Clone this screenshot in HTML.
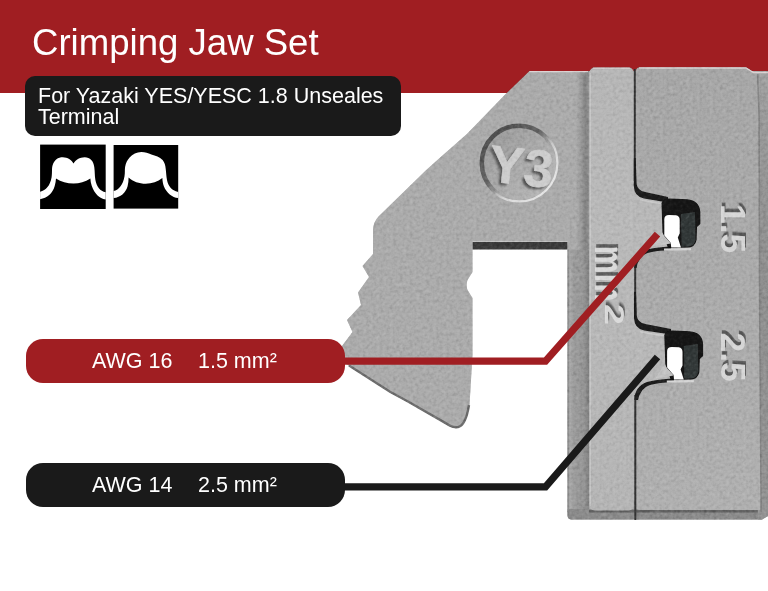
<!DOCTYPE html>
<html lang="en">
<head>
<meta charset="utf-8">
<title>Crimping Jaw Set</title>
<style>
html,body{margin:0;padding:0;}
body{width:768px;height:591px;position:relative;overflow:hidden;background:#fff;
  font-family:"Liberation Sans",Arial,sans-serif;color:#fff;}
.abs{position:absolute;}
#title,#desc span,.pill span{will-change:transform;}
#hdr{left:0;top:0;width:768px;height:92.8px;background:#a01e22;}
#title{left:31.9px;top:22.2px;font-size:36.6px;line-height:42px;white-space:nowrap;}
#desc{left:24.5px;top:75.5px;width:376.5px;height:60px;border-radius:10px;background:#1a1a1a;}
#desc span{position:absolute;left:13.6px;white-space:nowrap;font-size:21.5px;line-height:24px;}
#d1{top:8.5px;}
#d2{top:29.4px;}
.pill{left:26.3px;width:318.6px;height:44.2px;border-radius:17px;}
#p1{top:339.1px;background:#a01e22;}
#p2{top:463.1px;background:#1a1a1a;}
.pill span{position:absolute;top:10px;font-size:21.5px;line-height:24px;white-space:nowrap;}
.pill .a{left:66px;}
.pill .b{left:172px;}
#p2 .b{left:171.3px;}
svg{position:absolute;left:0;top:0;}
</style>
</head>
<body>
<div id="hdr" class="abs"></div>
<div id="title" class="abs">Crimping Jaw Set</div>
<div id="desc" class="abs"><span id="d1">For Yazaki YES/YESC 1.8 Unseales</span><span id="d2">Terminal</span></div>

<!-- crimp profile icons -->
<svg id="icons" width="768" height="591" viewBox="0 0 768 591">
  <g transform="translate(40.1,144.6)">
    <rect width="65.6" height="64.4" fill="#000"/>
    <path fill="#fff" d="M0,47.1 C6,46 10,41 11.5,32.75 C12.3,27 11.5,25 12.3,21.5 C14,15 18,12.7 22.75,12.7 C27.5,12.7 31.5,15.5 33.4,19 C35.5,15.5 39.5,12.7 44.6,12.7 C50,12.7 53.5,16.5 54.2,22.75 C54.8,27 54.5,31 55.25,35.25 C56.5,42.5 60,46.5 65.6,47.75 L65.6,55 C59,54 54.5,49 51.7,41.5 C50.8,39 50.4,36.5 50.25,34 C45,37.5 39.5,39 33.4,39 C27,39 21,37.5 15.9,34 C15.8,36.5 15.3,39 14.6,41.5 C12.5,49 7,53.5 0,54.6 Z"/>
  </g>
  <g transform="translate(113.6,145)">
    <rect width="64.6" height="63.6" fill="#000"/>
    <path fill="#fff" d="M0,46 C5.5,45 9.5,39.5 10.9,31.25 C11.6,27 11.0,25 11.5,21.9 C12.3,17.5 13.8,15 16,12.5 C19,9 23,6.9 27.75,6.9 C31.5,6.9 34.5,8 37.75,9.4 C42,10.5 46,12 49,15 C51,17.5 51.8,20 52.1,23.75 C52.6,27.5 52.6,31 53.4,35 C54.6,41 58,45.6 64.6,46.9 L64.6,53.1 C58.5,52.5 53,48 50.25,41.25 C49.3,38.8 48.9,36 48.75,33.1 C44,37 38.5,38.75 32.1,38.75 C25.5,38.75 19.5,36.5 15,32.5 C15,35.5 14.7,38.5 14,41.25 C12,48 7,52.3 0,53.1 Z"/>
  </g>
</svg>

<!-- jaw -->
<svg id="jaw" width="768" height="591" viewBox="0 0 768 591">
  <defs>
    <filter id="grain" x="0" y="0" width="100%" height="100%" color-interpolation-filters="sRGB">
      <feTurbulence type="fractalNoise" baseFrequency="0.3" numOctaves="2" seed="11" result="n"/>
      <feColorMatrix in="n" type="matrix" values="0.5 0.5 0 0 0  0.5 0.5 0 0 0  0.5 0.5 0 0 0  0 0 0 0 1" result="g"/>
      <feComponentTransfer in="g" result="g2">
        <feFuncR type="linear" slope="0.5" intercept="0.25"/>
        <feFuncG type="linear" slope="0.5" intercept="0.25"/>
        <feFuncB type="linear" slope="0.5" intercept="0.25"/>
      </feComponentTransfer>
      <feBlend in="g2" in2="SourceGraphic" mode="soft-light" result="b"/>
      <feComposite in="b" in2="SourceAlpha" operator="in"/>
    </filter>
    <filter id="soft" filterUnits="userSpaceOnUse" x="0" y="0" width="768" height="591"><feGaussianBlur stdDeviation="0.6"/></filter>
    <filter id="softT" filterUnits="userSpaceOnUse" x="-40" y="-80" width="240" height="160"><feGaussianBlur stdDeviation="0.6"/></filter>
    <filter id="soft2" filterUnits="userSpaceOnUse" x="-120" y="-120" width="240" height="240"><feGaussianBlur stdDeviation="1.2"/></filter>
    <linearGradient id="gStrip" x1="0" x2="1" y1="0" y2="0">
      <stop offset="0" stop-color="#8a8a8a"/>
      <stop offset="0.06" stop-color="#8e8e8e"/>
      <stop offset="0.1" stop-color="#aaaaaa"/>
      <stop offset="0.18" stop-color="#a4a4a4"/>
      <stop offset="0.28" stop-color="#9b9b9b"/>
      <stop offset="0.7" stop-color="#979797"/>
      <stop offset="0.88" stop-color="#888888"/>
      <stop offset="0.96" stop-color="#828282"/>
      <stop offset="1" stop-color="#9a9a9a"/>
    </linearGradient>
    <linearGradient id="gRingD" x1="0.12" y1="0.12" x2="0.88" y2="0.88">
      <stop offset="0" stop-color="#4e4e4e" stop-opacity="1"/>
      <stop offset="0.4" stop-color="#5a5a5a" stop-opacity="0.85"/>
      <stop offset="0.62" stop-color="#6a6a6a" stop-opacity="0"/>
      <stop offset="1" stop-color="#6a6a6a" stop-opacity="0"/>
    </linearGradient>
    <linearGradient id="gRingL" x1="0.12" y1="0.12" x2="0.88" y2="0.88">
      <stop offset="0" stop-color="#e2e2e2" stop-opacity="0"/>
      <stop offset="0.5" stop-color="#e2e2e2" stop-opacity="0"/>
      <stop offset="0.7" stop-color="#dedede" stop-opacity="0.9"/>
      <stop offset="1" stop-color="#e6e6e6" stop-opacity="1"/>
    </linearGradient>
    <linearGradient id="gDisc" x1="0.15" y1="0.15" x2="0.85" y2="0.85">
      <stop offset="0" stop-color="#9c9c9c"/>
      <stop offset="0.5" stop-color="#aaaaaa"/>
      <stop offset="1" stop-color="#b4b4b4"/>
    </linearGradient>
    <linearGradient id="gSide" x1="0" x2="0" y1="0" y2="1">
      <stop offset="0" stop-color="#a2a2a2"/>
      <stop offset="0.12" stop-color="#999999"/>
      <stop offset="0.45" stop-color="#8f8f8f"/>
      <stop offset="1" stop-color="#939393"/>
    </linearGradient>
    <linearGradient id="gBlock" x1="0" x2="0" y1="0" y2="1">
      <stop offset="0" stop-color="#a7a7a7"/>
      <stop offset="0.5" stop-color="#ababab"/>
      <stop offset="1" stop-color="#b0b0b0"/>
    </linearGradient>
    <linearGradient id="gBar" x1="0" x2="0" y1="0" y2="1">
      <stop offset="0" stop-color="#b6b6b6"/>
      <stop offset="0.4" stop-color="#b9b9b9"/>
      <stop offset="1" stop-color="#b5b5b5"/>
    </linearGradient>
    <linearGradient id="gBarSh" x1="0" x2="1" y1="0" y2="0">
      <stop offset="0" stop-color="#ababab"/>
      <stop offset="0.4" stop-color="#989898"/>
      <stop offset="0.68" stop-color="#848484"/>
      <stop offset="0.9" stop-color="#8c8c8c"/>
      <stop offset="1" stop-color="#a0a0a0"/>
    </linearGradient>
      </defs>
  <g id="metal" filter="url(#grain)">
    <!-- base plate -->
    <path id="plate" fill="#ababab" d="M529.4,71 L768,71 L768,516 L762,519.600 L572,519.600 Q567.5,519.600 567.5,515 L567.5,241 L472.5,241 L472.5,272 L467.500,280 Q465.800,285 467.500,290 L472.5,298 L472.5,355 L469.5,405 Q466,424 460,427 Q456,429.5 450,426.5 L407.5,402 L390,392.5 L349,366 L343,360 L342,346 L352.5,332 L347,320 L361,305 L358,292.5 L369,277 L362.5,266 L373,254 L373,230 Q373.3,222 378.75,216.25 L426.25,170 L438,159.5 L466.9,134 L480,120.6 L506.9,92.75 Z"/>
    <!-- darker lower edge of the left jaw -->
    <path d="M349,365.5 L390,391.8 L407.5,401.2 L450,425.600 Q456,428.600 460,426.2 Q466,423 469,405" fill="none" stroke="#6e6e6e" stroke-width="2.4" filter="url(#soft)"/>
    <!-- dark under-edge at hole top -->
    <rect x="472.5" y="241.600" width="95" height="8" fill="#3a3a3a" filter="url(#soft)"/>
    <!-- Y3 engraved ring -->
    <circle cx="519" cy="163" r="37" fill="url(#gDisc)"/>
    <circle cx="519" cy="163" r="37.2" fill="none" stroke="url(#gRingD)" stroke-width="4.5" filter="url(#soft)"/>
    <circle cx="519" cy="163" r="38.4" fill="none" stroke="url(#gRingL)" stroke-width="2.2" filter="url(#soft)"/>
    <g transform="translate(521.3,166) rotate(6) scale(1,1)" font-family="Liberation Sans, Arial, sans-serif" font-weight="bold" font-size="52.5" text-anchor="middle">
      <text x="0" y="18.8" fill="#555" transform="translate(-2.4,2.2)" filter="url(#soft2)">Y3</text>
      <text x="0" y="18.8" fill="#cdcdcd" stroke="#cdcdcd" stroke-width="0.6" stroke-linejoin="round">Y3</text>
    </g>
    <!-- strip between hole and bar -->
    <path d="M567.5,249.600 H589.500 V512 H567.5 Z" fill="url(#gStrip)"/>
    <rect x="576" y="71" width="13.5" height="179" fill="url(#gBarSh)"/>
    <!-- bottom thickness band -->
    <path d="M567.5,509 H761 L762,519.600 H572 Q567.5,519.600 567.5,515 Z" fill="#8b8b8b"/>
    <path d="M589,511.300 H761" stroke="#646464" stroke-width="2.4" fill="none" filter="url(#soft)"/>
    <!-- mid bar -->
    <rect x="589.5" y="67.5" width="44.3" height="443" rx="5" fill="url(#gBar)"/>
    <!-- right block -->
    <path d="M750,72 L768,72 L768,516 L762,519.600 L758,519.600 Z" fill="url(#gSide)"/>
    <path fill="url(#gBlock)" d="M640,67.3 L746,67.3 L753.500,72 L757.500,74 L759,115 L759.500,300 L761,510 L640,510 Q636,510 636,506 L636,71 Q636,67.3 640,67.3 Z"/>
    <path d="M757.600,74 L759.100,115 L759.600,300 L761.200,512" stroke="#838383" stroke-width="1.6" fill="none" filter="url(#soft)"/>
    <!-- top edge highlights -->
    <path d="M529.500,71.600 H588 M593,68.200 H630 M639,68 H746 L753.500,72.600 H768" stroke="#dcd2d2" stroke-width="1.3" fill="none" filter="url(#soft)"/>
    <path d="M590.300,73 V506" stroke="#c6c6c6" stroke-width="1.4" fill="none" filter="url(#soft)"/>
    <!-- gap line -->
    <path d="M634.8,69 V182 M635.2,262 V314 M635.3,394 V520" stroke="#333" stroke-width="2" fill="none" filter="url(#soft)"/>
    <!-- anvil noses (same piece as the bar) -->
    <path d="M634,181 Q635.5,193 646,196 Q655,198.3 662,199.5 L662,232 L671,243.5 L670,248 Q655,248.5 647,251 Q637,254.5 635.3,263 L633,263 L633,181 Z" fill="#b8b8b8"/>
    <path d="M634,313 Q635.8,325 647,328 Q657,330.3 665,331.5 L665,364 L674,375.5 L673,380 Q658,380.5 649,383 Q637.5,386.5 635.4,395 L633,395 L633,313 Z" fill="#b8b8b8"/>
    <!-- crimp nests -->
    <g fill="#1a1a1a" stroke="none" filter="url(#soft)">
      <path d="M633.9,158 L635.7,158 L636.600,184 Q637.5,190.5 645,192 L668,197 L668,202.500 L644,198.500 Q634.2,196.500 633.8,186 Z"/>
      <path d="M671,246.500 L671,250 Q655,250.500 647.500,253 Q638.500,256 636.500,268 L634.200,268 Q634.500,254 645,250 Q655,247 671,246.500 Z"/>
      <path d="M634.2,292 L636,292 L636.800,316 Q637.7,322.5 645.2,324 L671,329 L671,334.500 L644.2,330.500 Q634.4,328.500 634,318 Z"/>
      <path d="M674,378.500 L674,382 Q658,382.500 650,385 Q640.500,388 638,400 L634.400,400 Q635,386 647,382 Q658,379 674,378.500 Z"/>
    </g>
    <g fill="none" stroke="#c9c9c9" stroke-width="1.5" filter="url(#soft)">
      <path d="M640,199.800 Q650,202 661,203.500"/>
      <path d="M640.200,331.800 Q650.200,334 664,335.500"/>
    </g>
    <g>
      <!-- hole dark body -->
      <path d="M661.5,203 Q663,198.5 670,198.5 L687,199.3 Q699.5,200.5 700.3,212 L700.3,224 L697,227 L696.6,240 Q695,247.3 688,247.6 L668,248 L662.5,232 Z" fill="#121212" filter="url(#soft)"/>
      <!-- inner grey wall -->
      <path d="M681,214 L695,212 L695.5,240 Q694,246 688,246.5 L681.5,246.8 Z" fill="#333838" filter="url(#soft)"/>
      <!-- white opening -->
      <path d="M664.3,219 Q664.5,215 669,215 L676,215.2 Q679.6,215.6 679.7,220 L679.7,233.5 L677.8,237.5 L681,247.6 L671.2,247.6 L670.8,243 L664.3,235.5 Z" fill="#fff"/>
      <!-- anvil tip -->
      <path d="M661.5,233 L671,243.5 L652.5,246.5 Z" fill="#c4c4c4" filter="url(#soft)"/>
      <!-- bottom highlight -->
      <path d="M664,249.6 L691,249.2" stroke="#d4d4d4" stroke-width="2.2" fill="none" filter="url(#soft)"/>
    </g>
    <g transform="translate(2.8,132)">
      <!-- hole dark body -->
      <path d="M661.5,203 Q663,198.5 670,198.5 L687,199.3 Q699.5,200.5 700.3,212 L700.3,224 L697,227 L696.6,240 Q695,247.3 688,247.6 L668,248 L662.5,232 Z" fill="#121212" filter="url(#soft)"/>
      <!-- inner grey wall -->
      <path d="M681,214 L695,212 L695.5,240 Q694,246 688,246.5 L681.5,246.8 Z" fill="#333838" filter="url(#soft)"/>
      <!-- white opening -->
      <path d="M664.3,219 Q664.5,215 669,215 L676,215.2 Q679.6,215.6 679.7,220 L679.7,233.5 L677.8,237.5 L681,247.6 L671.2,247.6 L670.8,243 L664.3,235.5 Z" fill="#fff"/>
      <!-- anvil tip -->
      <path d="M661.5,233 L671,243.5 L652.5,246.5 Z" fill="#c4c4c4" filter="url(#soft)"/>
      <!-- bottom highlight -->
      <path d="M664,249.6 L691,249.2" stroke="#d4d4d4" stroke-width="2.2" fill="none" filter="url(#soft)"/>
    </g>
    <!-- stamped size marks -->
    <g font-family="Liberation Sans, Arial, sans-serif" font-weight="bold">
      <g transform="translate(595.6,244.5) rotate(90)">
        <g transform="scale(0.79,1)" font-size="40">
          <text x="0" y="0" fill="#5c5c5c" transform="translate(-3.2,-0.6)" filter="url(#softT)">mm</text>
          <text x="0" y="0" fill="#dadada" transform="translate(1.2,0.3)">mm</text>
        </g>
        <g transform="translate(58.5,-9.6) scale(1.35,1)" font-size="28">
          <text x="0" y="0" fill="#5c5c5c" transform="translate(-1.8,-0.6)" filter="url(#softT)">2</text>
          <text x="0" y="0" fill="#dadada" transform="translate(0.7,0.3)">2</text>
        </g>
      </g>
      <g transform="translate(721.3,203) rotate(90)" font-size="35.5">
        <text x="0" y="0" fill="#585858" transform="translate(-2.4,-0.6)" filter="url(#softT)">1.5</text>
        <text x="0" y="0" fill="#d6d6d6" transform="translate(1,0.3)">1.5</text>
      </g>
      <g transform="translate(721.3,331.500) rotate(90)" font-size="35.5">
        <text x="0" y="0" fill="#585858" transform="translate(-2.4,-0.6)" filter="url(#softT)">2.5</text>
        <text x="0" y="0" fill="#d6d6d6" transform="translate(1,0.3)">2.5</text>
      </g>
    </g>
  </g>
</svg>

<div id="p1" class="abs pill"><span class="a">AWG 16</span><span class="b">1.5 mm²</span></div>
<div id="p2" class="abs pill"><span class="a">AWG 14</span><span class="b">2.5 mm²</span></div>

<svg id="lines" width="768" height="591" viewBox="0 0 768 591">
  <polyline points="340,361.1 545.5,361.1 657.5,234.2" fill="none" stroke="#a01e22" stroke-width="7.2" stroke-linejoin="miter"/>
  <polyline points="340,486.8 545.5,486.8 657.5,357" fill="none" stroke="#1a1a1a" stroke-width="7.2" stroke-linejoin="miter"/>
</svg>
</body>
</html>
